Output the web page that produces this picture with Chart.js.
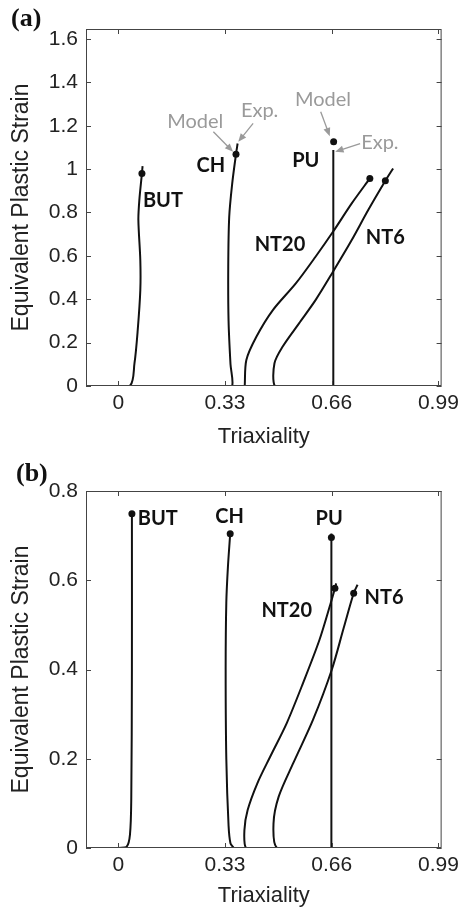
<!DOCTYPE html>
<html>
<head>
<meta charset="utf-8">
<script src="https://cdn.jsdelivr.net/npm/chart.js@4/dist/chart.umd.min.js"></script>
<style>
body{margin:0;background:#fff;width:464px;height:912px;position:relative;overflow:hidden}
.panel{position:absolute;left:0;width:464px;height:456px}
.tag{position:absolute;font:bold 26px "Liberation Serif",serif;color:#111;line-height:26px}
</style>
</head>
<body>
<div class="panel" style="top:0"><canvas id="chartA"></canvas></div>
<div class="panel" style="top:456px"><canvas id="chartB"></canvas></div>
<div class="tag" style="left:11px;top:5px">(a)</div>
<div class="tag" style="left:16px;top:460px">(b)</div>
<script>
// tick labels
var xTicks = [0, 0.33, 0.66, 0.99];
var yTicksA = [0, 0.2, 0.4, 0.6, 0.8, 1, 1.2, 1.4, 1.6];
var yTicksB = [0, 0.2, 0.4, 0.6, 0.8];

// panel (a) curves
var butAx = [-0.057, 0.035, 0.050, 0.060, 0.068, 0.068, 0.062, 0.065, 0.073, 0.075];
var butAy = [0, 0, 0.105, 0.258, 0.442, 0.58, 0.765, 0.857, 0.98, 1.014];
var chAx = [0.324, 0.352, 0.347, 0.341, 0.340, 0.343, 0.352, 0.364, 0.369];
var chAy = [0, 0, 0.1, 0.3, 0.55, 0.78, 0.93, 1.069, 1.118];
var puAx = [0.665, 0.665];
var puAy = [0, 1.088];
var nt20Ax = [0.391, 0.396, 0.427, 0.478, 0.549, 0.610, 0.664, 0.722, 0.778];
var nt20Ay = [0, 0.12, 0.227, 0.350, 0.473, 0.596, 0.711, 0.842, 0.957];
var nt6Ax = [0.52, 0.484, 0.483, 0.508, 0.559, 0.610, 0.664, 0.722, 0.773, 0.826, 0.850];
var nt6Ay = [0, 0, 0.105, 0.181, 0.289, 0.396, 0.527, 0.673, 0.811, 0.946, 1.003];
var dotAx = [0.073, 0.364, 0.666, 0.778, 0.826];
var dotAy = [0.98, 1.069, 1.126, 0.957, 0.946];

// panel (b) curves
var butBx = [0.001, 0.026, 0.036, 0.040, 0.042, 0.042];
var butBy = [0, 0.003, 0.03, 0.108, 0.4, 0.749];
var chBx = [0.329, 0.356, 0.347, 0.341, 0.334, 0.332, 0.334, 0.339, 0.346];
var chBy = [0, 0, 0.01, 0.05, 0.2, 0.4, 0.55, 0.63, 0.704];
var puBx = [0.659, 0.659];
var puBy = [0, 0.705];
var nt20Bx = [0.43, 0.395, 0.390, 0.400, 0.430, 0.470, 0.521, 0.571, 0.622, 0.657, 0.670, 0.674];
var nt20By = [0, 0, 0.040, 0.085, 0.145, 0.205, 0.280, 0.369, 0.466, 0.549, 0.582, 0.593];
var nt6Bx = [0.581, 0.491, 0.480, 0.496, 0.541, 0.602, 0.660, 0.697, 0.728, 0.740];
var nt6By = [0, 0, 0.055, 0.115, 0.190, 0.287, 0.399, 0.493, 0.571, 0.590];
var dotBx = [0.042, 0.346, 0.659, 0.670, 0.728];
var dotBy = [0.749, 0.704, 0.696, 0.582, 0.571];

// labels
var names = ["BUT", "CH", "PU", "NT20", "NT6"];
var nameAx = [0.138, 0.286, 0.58, 0.50, 0.826];
var nameAy = [0.857, 1.015, 1.04, 0.65, 0.685];
var nameBx = [0.122, 0.344, 0.652, 0.521, 0.822];
var nameBy = [0.739, 0.743, 0.739, 0.532, 0.562];

var noteText = ["Model", "Exp.", "Model", "Exp."];
var noteX = [0.238, 0.437, 0.633, 0.809];
var noteY = [1.218, 1.272, 1.321, 1.121];
var arrowFrom = [[0.294, 1.172], [0.417, 1.211], [0.626, 1.264], [0.748, 1.118]];
var arrowTo = [[0.355, 1.080], [0.371, 1.126], [0.654, 1.152], [0.671, 1.080]];

function pts(xs, ys) {
	var out = [];
	for (var i = 0; i < xs.length; i++) out.push({x: xs[i], y: ys[i]});
	return out;
}

function curve(xs, ys) {
	return {
		data: pts(xs, ys),
		showLine: true,
		borderColor: "#111",
		borderWidth: 2,
		pointRadius: 0,
		tension: 0.3,
		fill: false
	};
}

var framePlugin = {
	id: "frame",
	afterDatasetsDraw: function(chart, args, opts) {
		var ctx = chart.ctx, a = chart.chartArea;
		var xs = chart.scales.x, ys = chart.scales.y;
		ctx.save();
		ctx.strokeStyle = "#444";
		ctx.lineWidth = 1;
		ctx.strokeRect(a.left + 0.5, a.top + 0.5, a.right - a.left - 1, a.bottom - a.top - 1);
		ctx.beginPath();
		xTicks.forEach(function(v) {
			var px = Math.round(xs.getPixelForValue(v)) + 0.5;
			ctx.moveTo(px, a.bottom); ctx.lineTo(px, a.bottom - 5);
			ctx.moveTo(px, a.top); ctx.lineTo(px, a.top + 5);
		});
		opts.yTicks.forEach(function(v) {
			var py = Math.round(ys.getPixelForValue(v)) + 0.5;
			ctx.moveTo(a.left, py); ctx.lineTo(a.left + 5, py);
			ctx.moveTo(a.right, py); ctx.lineTo(a.right - 5, py);
		});
		ctx.stroke();

		// curve names
		ctx.fillStyle = "#111";
		ctx.font = "bold 20px Lato, 'Open Sans', sans-serif";
		ctx.textAlign = "center";
		ctx.textBaseline = "middle";
		for (var i = 0; i < names.length; i++) {
			ctx.fillText(names[i], xs.getPixelForValue(opts.nx[i]), ys.getPixelForValue(opts.ny[i]));
		}

		// Model / Exp. notes
		if (opts.notes) {
			ctx.fillStyle = "#9a9a9a";
			ctx.strokeStyle = "#9a9a9a";
			ctx.font = "20px Lato, sans-serif";
			for (var j = 0; j < noteText.length; j++) {
				ctx.fillText(noteText[j], xs.getPixelForValue(noteX[j]), ys.getPixelForValue(noteY[j]));
				var x1 = xs.getPixelForValue(arrowFrom[j][0]), y1 = ys.getPixelForValue(arrowFrom[j][1]);
				var x2 = xs.getPixelForValue(arrowTo[j][0]), y2 = ys.getPixelForValue(arrowTo[j][1]);
				var ang = Math.atan2(y2 - y1, x2 - x1);
				ctx.lineWidth = 1.3;
				ctx.beginPath();
				ctx.moveTo(x1, y1);
				ctx.lineTo(x2 - 6 * Math.cos(ang), y2 - 6 * Math.sin(ang));
				ctx.stroke();
				ctx.beginPath();
				ctx.moveTo(x2, y2);
				ctx.lineTo(x2 - 9 * Math.cos(ang - 0.4), y2 - 9 * Math.sin(ang - 0.4));
				ctx.lineTo(x2 - 9 * Math.cos(ang + 0.4), y2 - 9 * Math.sin(ang + 0.4));
				ctx.closePath();
				ctx.fill();
			}
		}
		ctx.restore();
	}
};

function makeChart(id, sets, dots, yMax, yTicks, pad, xH, nx, ny, notes) {
	var datasets = sets.map(function(s) { return curve(s[0], s[1]); });
	datasets.push({
		data: pts(dots[0], dots[1]),
		showLine: false,
		pointRadius: 3.5,
		pointBackgroundColor: "#111",
		pointBorderColor: "#111",
		pointBorderWidth: 0
	});
	var fmt = function(v) { return String(+(+v).toFixed(2)); };
	return new Chart(document.getElementById(id), {
		type: "scatter",
		data: {datasets: datasets},
		plugins: [framePlugin],
		options: {
			responsive: true,
			maintainAspectRatio: false,
			animation: false,
			layout: {padding: pad},
			plugins: {
				legend: {display: false},
				tooltip: {enabled: false},
				frame: {yTicks: yTicks, nx: nx, ny: ny, notes: notes}
			},
			scales: {
				x: {
					type: "linear",
					min: -0.1, max: 1.0,
					afterBuildTicks: function(s) { s.ticks = xTicks.map(function(v) { return {value: v}; }); },
					afterFit: function(s) { s.height = xH; },
					grid: {display: false, drawTicks: false},
					border: {display: false},
					ticks: {color: "#222", font: {family: "'Liberation Sans', Arial, sans-serif", size: 21}, padding: 5, maxRotation: 0, callback: fmt},
					title: {display: true, text: "Triaxiality", color: "#222", font: {family: "'Liberation Sans', Arial, sans-serif", size: 22}, padding: {top: 4, bottom: 0}}
				},
				y: {
					type: "linear",
					min: 0, max: yMax,
					afterBuildTicks: function(s) { s.ticks = yTicks.map(function(v) { return {value: v}; }); },
					afterFit: function(s) { s.width = 78; },
					grid: {display: false, drawTicks: false},
					border: {display: false},
					ticks: {color: "#222", font: {family: "'Liberation Sans', Arial, sans-serif", size: 21}, padding: 8, callback: fmt},
					title: {display: true, text: "Equivalent Plastic Strain", color: "#222", font: {family: "'Liberation Sans', Arial, sans-serif", size: 23}, padding: {top: 0, bottom: 4}}
				}
			}
		}
	});
}

makeChart("chartA",
	[[butAx, butAy], [chAx, chAy], [puAx, puAy], [nt20Ax, nt20Ay], [nt6Ax, nt6Ay]],
	[dotAx, dotAy], 1.646, yTicksA,
	{top: 29, right: 21, left: 8, bottom: 6}, 64, nameAx, nameAy, true);

makeChart("chartB",
	[[butBx, butBy], [chBx, chBy], [puBx, puBy], [nt20Bx, nt20By], [nt6Bx, nt6By]],
	[dotBx, dotBy], 0.8, yTicksB,
	{top: 35, right: 19, left: 8, bottom: 3}, 61, nameBx, nameBy, false);
</script>
</body>
</html>
